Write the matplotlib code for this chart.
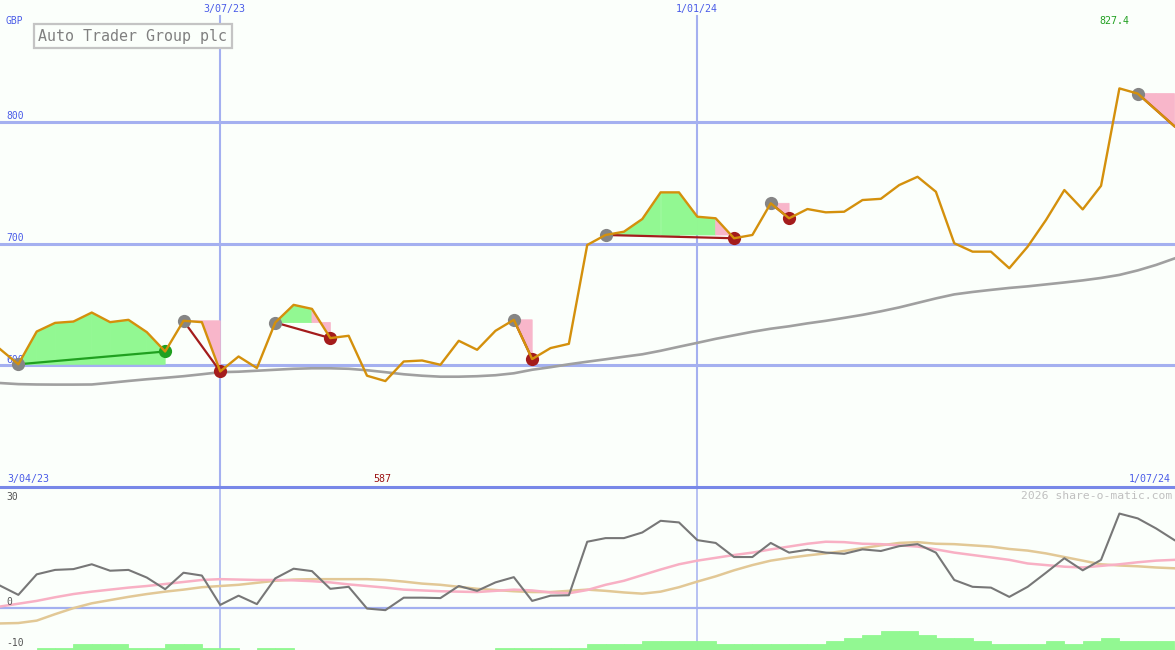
import pandas as pd
import matplotlib
matplotlib.use('Agg')
import matplotlib.pyplot as plt

# weekly closes (GBp), Auto Trader Group plc, from 10 Apr 2023
dates = pd.date_range('2023-04-10', periods=65, freq='7D')
price = [613.3, 600.8, 627.7, 634.8, 635.9, 643.3, 635.4, 637.3, 627.2, 611.3,
         636.5, 635.4, 594.9, 607.2, 597.7, 635.1, 649.6, 646.3, 622.3, 624.2,
         591.4, 587.0, 603.1, 603.9, 600.4, 620.1, 612.7, 628.3, 637.3, 605.1,
         614.1, 617.6, 698.8, 707.0, 709.7, 720.1, 742.0, 742.0, 722.0, 720.7,
         704.3, 707.0, 733.0, 720.7, 728.3, 725.6, 726.1, 735.7, 736.7, 748.0,
         754.8, 742.5, 700.2, 693.3, 693.3, 679.7, 697.4, 719.3, 743.9, 728.0,
         747.4, 827.4, 823.1, 809.7, 796.3]
# long moving average (grey)
ma = [585.4, 584.5, 584.2, 584.1, 584.1, 584.2, 585.6, 587.1, 588.5, 589.7,
      591.0, 592.6, 594.3, 594.7, 595.5, 596.3, 597.1, 597.5, 597.5, 597.1,
      595.9, 594.3, 592.6, 591.4, 590.6, 590.6, 591.0, 591.8, 593.4, 596.3,
      598.4, 600.8, 602.9, 604.9, 607.0, 609.0, 611.9, 615.2, 618.4, 621.7,
      624.6, 627.5, 630.0, 632.0, 634.4, 636.5, 638.9, 641.4, 644.3, 647.5,
      651.2, 654.9, 658.2, 660.2, 661.9, 663.5, 664.8, 666.4, 668.0, 669.7,
      671.7, 674.2, 677.9, 682.4, 687.7]
# swings: (start, end) index pairs; last one still open
swings = [(1, 9), (10, 12), (15, 18), (28, 29), (33, 40), (42, 43), (62, 64)]

# lower panel
momentum = [5.5, 3.2, 8.3, 9.4, 9.6, 10.8, 9.2, 9.4, 7.5, 4.6,
            8.7, 8.0, 0.7, 3.0, 0.9, 7.3, 9.7, 9.1, 4.7, 5.2,
            -0.2, -0.6, 2.5, 2.5, 2.4, 5.4, 4.2, 6.3, 7.6, 1.7,
            3.0, 3.1, 16.4, 17.3, 17.3, 18.7, 21.6, 21.2, 16.8, 16.1,
            12.6, 12.6, 16.1, 13.7, 14.4, 13.7, 13.4, 14.5, 14.1, 15.3,
            15.8, 13.7, 6.9, 5.2, 5.0, 2.7, 5.2, 8.7, 12.3, 9.3,
            11.9, 23.4, 22.2, 19.7, 16.8]
sig_fast = [0.3, 1.0, 1.7, 2.6, 3.4, 4.0, 4.5, 5.0, 5.4, 5.9,
            6.4, 6.9, 7.1, 7.0, 6.9, 6.9, 6.8, 6.6, 6.3, 5.8,
            5.4, 5.0, 4.5, 4.3, 4.1, 4.0, 3.9, 4.2, 4.5, 4.3,
            3.8, 3.6, 4.4, 5.7, 6.7, 8.1, 9.5, 10.8, 11.7, 12.4,
            13.1, 13.7, 14.5, 15.2, 15.9, 16.4, 16.3, 15.9, 15.8, 15.5,
            15.2, 14.5, 13.7, 13.1, 12.5, 11.9, 11.0, 10.6, 10.2, 10.0,
            10.4, 10.8, 11.3, 11.7, 11.9]
sig_slow = [-3.9, -3.8, -3.2, -1.6, -0.1, 1.1, 1.9, 2.7, 3.4, 4.0,
            4.5, 5.1, 5.4, 5.7, 6.2, 6.7, 7.0, 7.1, 7.1, 7.1,
            7.1, 6.9, 6.5, 6.0, 5.7, 5.2, 4.7, 4.4, 4.1, 3.9,
            3.9, 4.2, 4.5, 4.2, 3.8, 3.5, 4.0, 5.1, 6.5, 7.8,
            9.3, 10.6, 11.7, 12.4, 13.0, 13.5, 14.1, 14.8, 15.5, 16.1,
            16.3, 15.9, 15.8, 15.5, 15.2, 14.6, 14.2, 13.5, 12.6, 11.7,
            10.8, 10.5, 10.3, 10.0, 9.8]
# weekly bars along the bottom (one per week interval)
bars = [0, 0, 0.6, 0.6, 1.5, 1.5, 1.5, 0.6, 0.6, 1.5,
        1.5, 0.6, 0.6, 0, 0.6, 0.6, 0, 0, 0, 0,
        0, 0, 0, 0, 0, 0, 0, 0.6, 0.6, 0.6,
        0.6, 0.6, 1.5, 1.5, 1.5, 2.2, 2.2, 2.2, 2.2, 1.5,
        1.5, 1.5, 1.5, 1.5, 1.5, 2.2, 2.9, 3.7, 4.7, 4.7,
        3.7, 2.9, 2.9, 2.2, 1.5, 1.5, 1.5, 2.2, 1.5, 2.2,
        2.9, 2.2, 2.2, 2.2]

vlines = [pd.Timestamp('2023-07-03'), pd.Timestamp('2024-01-01')]

BG = '#fbfffb'
GRID = '#a4b0f0'
BLUE = '#4a5ce8'
GREEN_FILL = '#92f892'
PINK_FILL = '#f8b6ca'
UP = '#20a020'
DOWN = '#a41c1c'
MONO = 'DejaVu Sans Mono'

fig = plt.figure(figsize=(11.75, 6.5), dpi=100, facecolor=BG)
ax = fig.add_axes([0, 163 / 650, 1, 487 / 650])
ax2 = fig.add_axes([0, 0, 1, 163 / 650])
x0, x1 = dates[0], dates[-1] + pd.Timedelta(hours=5)

# ---- price panel
ax.set_xlim(x0, x1)
ax.set_ylim(500, 900)
ax.set_facecolor(BG)
for s in ax.spines.values():
    s.set_visible(False)
ax.set_xticks([])
ax.set_yticks([])

for lvl in (600, 700, 800):
    ax.axhline(lvl, color=GRID, lw=2.2, zorder=1)
    ax.text(6 / 1175, lvl + 2, str(lvl), transform=ax.get_yaxis_transform(),
            color=BLUE, fontsize=7, family=MONO, va='baseline')
for d in vlines:
    ax.axvline(d, ymax=1 - 16 / 487, color=GRID, lw=1.5, zorder=1)

ax.plot(dates, ma, color='#a0a0a0', lw=1.9, zorder=3)

for s, e in swings:
    base = price[s]
    for k in range(s, e):
        col = GREEN_FILL if price[k + 1] > base else PINK_FILL
        ax.fill([dates[k], dates[k], dates[k + 1], dates[k + 1]],
                [base, price[k], price[k + 1], base], facecolor=col,
                edgecolor=col, lw=0.6, zorder=2)
    up = price[e] > base
    ax.plot([dates[s], dates[e]], [base, price[e]], color=UP if up else DOWN,
            lw=1.6, zorder=4)
    ax.plot(dates[s], base, 'o', color='#858585', ms=9.5, mew=0, zorder=5)
    if e < len(price) - 1:
        ax.plot(dates[e], price[e], 'o', color=UP if up else DOWN, ms=9.5,
                mew=0, zorder=5)

ax.plot(dates, price, color='#d4900c', lw=1.7, zorder=6)

imax = price.index(max(price))
imin = price.index(min(price))
ax.text(dates[imax] - pd.Timedelta(days=2), 882.5, '%.1f' % price[imax],
        color=UP, fontsize=7.2, family=MONO, ha='center', va='center')
ax.text(dates[imin] - pd.Timedelta(days=1), 506.6, '%g' % price[imin],
        color='#9c1414', fontsize=7.2, family=MONO, ha='center', va='center')

# labels
fig.text(6 / 1175, 1 - 21 / 650, 'GBP', color=BLUE, fontsize=7, family=MONO,
         va='center')
fig.text(224 / 1175, 1 - 9 / 650, '3/07/23', color=BLUE, fontsize=7.2,
         family=MONO, ha='center', va='center')
fig.text(697 / 1175, 1 - 9 / 650, '1/01/24', color=BLUE, fontsize=7.2,
         family=MONO, ha='center', va='center')
fig.text(7 / 1175, 1 - 479 / 650, '3/04/23', color=BLUE, fontsize=7.2,
         family=MONO, va='center')
fig.text(1171 / 1175, 1 - 479 / 650, '1/07/24', color=BLUE, fontsize=7.2,
         family=MONO, ha='right', va='center')
fig.text(38 / 1175, 1 - 36 / 650, 'Auto Trader Group plc', color='#808080',
         fontsize=10.8, family=MONO, va='center',
         bbox=dict(boxstyle='square,pad=0.3', fc=BG, ec='#c4c4c4', lw=1.6))

# ---- indicator panel
ax2.set_xlim(x0, x1)
ax2.set_ylim(-10.5, 30)
ax2.set_facecolor(BG)
for name, s in ax2.spines.items():
    s.set_visible(False)
ax2.set_xticks([])
ax2.set_yticks([])
ax2.axhline(0, color=GRID, lw=1.6, zorder=1)
ax2.axhline(30, color='#7888e8', lw=2.2, zorder=6, clip_on=False)
for d in vlines:
    ax2.axvline(d, color=GRID, lw=1.1, zorder=1)

ax2.bar(dates[:-1], bars, width=pd.Timedelta(days=7), align='edge',
        bottom=-10.5, color=GREEN_FILL, edgecolor=GREEN_FILL, lw=0.6, zorder=2)
ax2.plot(dates, sig_slow, color='#e2c896', lw=1.8, zorder=3)
ax2.plot(dates, sig_fast, color='#f8b0c4', lw=1.8, zorder=3)
ax2.plot(dates, momentum, color='#777777', lw=1.5, zorder=4)

for val, ypx in ((30, 496.5), (0, 602.2), (-10, 642.5)):
    fig.text(6 / 1175, 1 - ypx / 650, str(val), color='#555555', fontsize=7,
             family=MONO, va='center')
fig.text(1172 / 1175, 1 - 496 / 650, '2026 share-o-matic.com', color='#c0c0c0',
         fontsize=8.2, family=MONO, ha='right', va='center')

fig.savefig('out.png', dpi=100, facecolor=BG)
